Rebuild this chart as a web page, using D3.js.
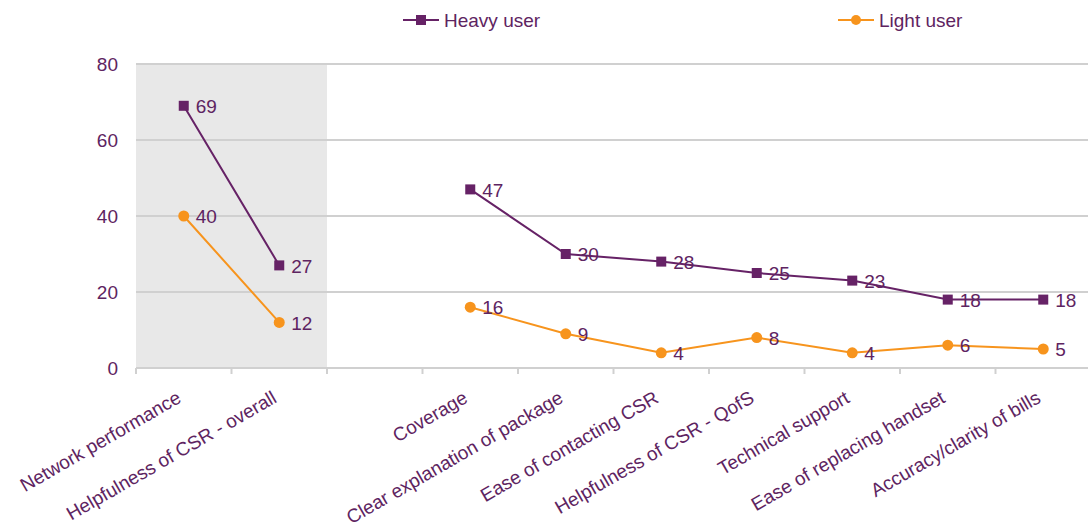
<!DOCTYPE html>
<html>
<head>
<meta charset="utf-8">
<script src="https://cdn.jsdelivr.net/npm/d3@7"></script>
<style>
    body { margin: 0; background: #fff; }
    svg { display: block; font-family: "Liberation Sans", Arial, sans-serif; }
</style>
</head>
<body>
<div id="chart"></div>
<script>
// categories (empty slot separates the two groups)
const categories = [
    'Network performance', 'Helpfulness of CSR - overall', '',
    'Coverage', 'Clear explanation of package', 'Ease of contacting CSR',
    'Helpfulness of CSR - QofS', 'Technical support', 'Ease of replacing handset',
    'Accuracy/clarity of bills'
];
const heavyUser = [69, 27, null, 47, 30, 28, 25, 23, 18, 18];
const lightUser = [40, 12, null, 16, 9, 4, 8, 4, 6, 5];
const yTicks = [0, 20, 40, 60, 80];
const shadedCategories = ['Network performance', 'Helpfulness of CSR - overall'];

const purple = '#662266';
const orange = '#F7941D';
const textColor = '#5e2461';
const fontSize = '19px';

const width = 1088, height = 528;
const margin = { top: 64, right: -3, bottom: 160, left: 136 };

const svg = d3.select('#chart')
    .append('svg')
    .attr('width', width)
    .attr('height', height);

const x = d3.scaleBand()
    .domain(d3.range(categories.length))
    .range([margin.left, width - margin.right]);

const y = d3.scaleLinear()
    .domain([0, 80])
    .range([height - margin.bottom, margin.top]);

/* shaded band behind first group */
const shadeIdx = shadedCategories.map((c) => categories.indexOf(c));
svg.append('rect')
    .attr('x', x(d3.min(shadeIdx)))
    .attr('y', y(80))
    .attr('width', x.bandwidth() * shadeIdx.length)
    .attr('height', y(0) - y(80))
    .attr('fill', '#e8e8e8');

/* gridlines */
svg.append('g')
    .selectAll('line')
    .data(yTicks.filter((t) => t > 0))
    .join('line')
    .attr('x1', margin.left)
    .attr('x2', width)
    .attr('y1', (d) => y(d))
    .attr('y2', (d) => y(d))
    .attr('stroke', '#d0d0d0')
    .attr('stroke-width', 2);

/* y axis labels */
svg.append('g')
    .selectAll('text')
    .data(yTicks)
    .join('text')
    .attr('x', margin.left - 18)
    .attr('y', (d) => y(d))
    .attr('dy', '0.35em')
    .attr('text-anchor', 'end')
    .attr('fill', textColor)
    .style('font-size', fontSize)
    .text((d) => d);

/* x axis */
const xAxis = svg.append('g');
xAxis.append('line')
    .attr('x1', margin.left)
    .attr('x2', width)
    .attr('y1', y(0))
    .attr('y2', y(0))
    .attr('stroke', '#d0d0d0')
    .attr('stroke-width', 2);
xAxis.selectAll('.tick')
    .data(d3.range(categories.length))
    .join('line')
    .attr('class', 'tick')
    .attr('x1', (d) => x(d))
    .attr('x2', (d) => x(d))
    .attr('y1', y(0))
    .attr('y2', y(0) + 6)
    .attr('stroke', '#d0d0d0')
    .attr('stroke-width', 2);
xAxis.selectAll('.label')
    .data(categories)
    .join('text')
    .attr('class', 'label')
    .attr('transform', (d, i) => `translate(${x(i) + x.bandwidth() / 2 - 8},${y(0) + 22}) rotate(-30)`)
    .attr('text-anchor', 'end')
    .attr('dy', '0.7em')
    .attr('fill', textColor)
    .style('font-size', fontSize)
    .text((d) => d);

const cx = (i) => x(i) + x.bandwidth() / 2;

const series = [
    { name: 'Heavy user', values: heavyUser, color: purple, shape: 'square' },
    { name: 'Light user', values: lightUser, color: orange, shape: 'circle' }
];

const line = d3.line()
    .defined((d) => d != null)
    .x((d, i) => cx(i))
    .y((d) => y(d));

series.forEach((s) => {
    const g = svg.append('g');
    g.append('path')
        .attr('d', line(s.values))
        .attr('fill', 'none')
        .attr('stroke', s.color)
        .attr('stroke-width', 2);

    const pts = s.values.map((v, i) => ({ v, i })).filter((d) => d.v != null);
    if (s.shape === 'square') {
        g.selectAll('rect')
            .data(pts)
            .join('rect')
            .attr('x', (d) => cx(d.i) - 5)
            .attr('y', (d) => y(d.v) - 5)
            .attr('width', 10)
            .attr('height', 10)
            .attr('fill', s.color);
    } else {
        g.selectAll('circle')
            .data(pts)
            .join('circle')
            .attr('cx', (d) => cx(d.i))
            .attr('cy', (d) => y(d.v))
            .attr('r', 5.5)
            .attr('fill', s.color);
    }
    g.selectAll('text')
        .data(pts)
        .join('text')
        .attr('x', (d) => cx(d.i) + 12)
        .attr('y', (d) => y(d.v))
        .attr('dy', '0.38em')
        .attr('fill', textColor)
        .style('font-size', fontSize)
        .text((d) => d.v);
});

/* legend */
const legendX = [403, 838];
series.forEach((s, k) => {
    const lg = svg.append('g').attr('transform', `translate(${legendX[k]},20)`);
    lg.append('line')
        .attr('x1', 0).attr('x2', 36)
        .attr('stroke', s.color)
        .attr('stroke-width', 2);
    if (s.shape === 'square') {
        lg.append('rect').attr('x', 13).attr('y', -5).attr('width', 10).attr('height', 10).attr('fill', s.color);
    } else {
        lg.append('circle').attr('cx', 18).attr('r', 5).attr('fill', s.color);
    }
    lg.append('text')
        .attr('x', 41)
        .attr('dy', '0.35em')
        .attr('fill', textColor)
        .style('font-size', fontSize)
        .text(s.name);
});
</script>
</body>
</html>
